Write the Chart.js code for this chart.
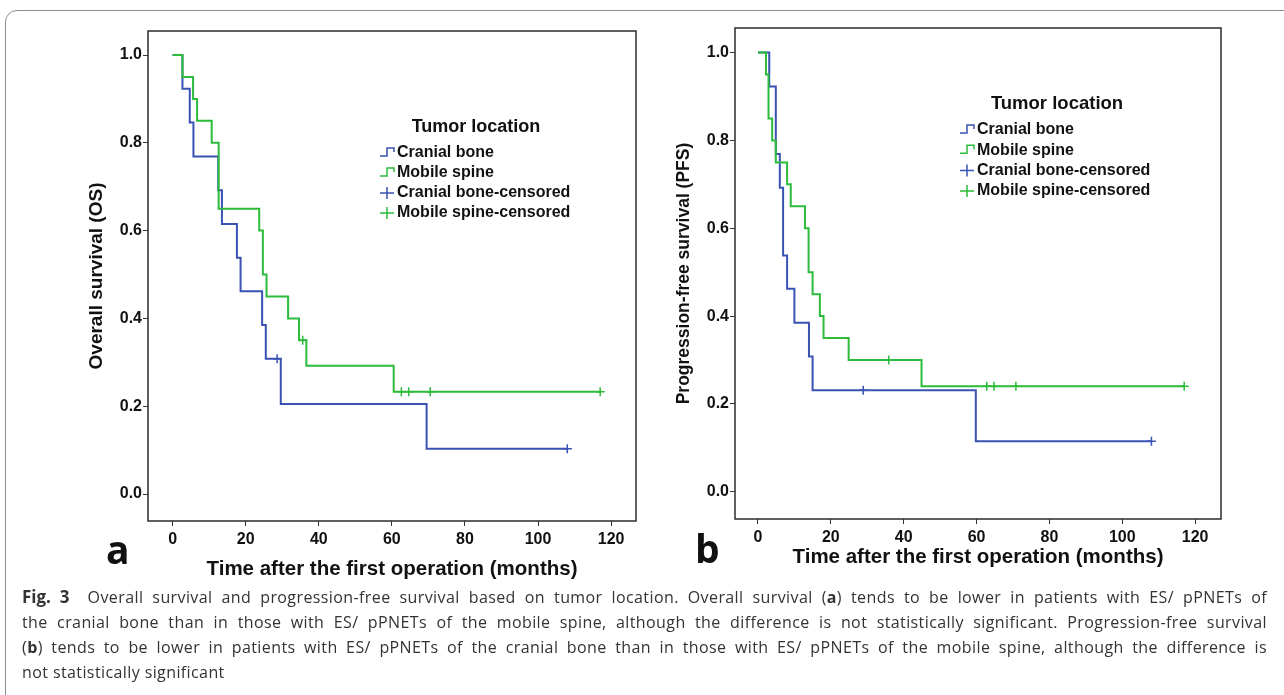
<!DOCTYPE html>
<html>
<head>
<meta charset="utf-8">
<script src="https://cdn.jsdelivr.net/npm/chart.js@4.4.1/dist/chart.umd.min.js"></script>
<style>
  body { margin: 0; background: #fff; width: 1284px; height: 695px; overflow: hidden; position: relative; }
  .box { position: absolute; left: 5px; top: 10px; width: 1300px; height: 700px; border: 1.5px solid #8c8c8c; border-radius: 12px; }
  #osWrap { position: absolute; left: 20px; top: 20px; }
  #pfsWrap { position: absolute; left: 660px; top: 16px; }
  .panel { position: absolute; font-family: "Open Sans", sans-serif; font-weight: 700; font-size: 39px; line-height: 40px; color: #111; }
  .caption { position: absolute; left: 22px; top: 584px; font-family: "Open Sans", sans-serif; font-size: 16px; letter-spacing: 0.4px; line-height: 25px; color: #333; white-space: nowrap; }
  .caption .full { width: 1245px; text-align: justify; text-align-last: justify; }
  .caption .fig { font-size: 17px; letter-spacing: 0; }
</style>
</head>
<body>
<div class="box"></div>
<div id="osWrap"><canvas id="osChart" width="630" height="570"></canvas></div>
<div id="pfsWrap"><canvas id="pfsChart" width="620" height="570"></canvas></div>
<div class="panel" style="left:106px; top:529px;">a</div>
<div class="panel" style="left:695px; top:528px;">b</div>
<div class="caption">
  <div class="full"><b class="fig">Fig. 3</b>&nbsp; Overall survival and progression-free survival based on tumor location. Overall survival (<b>a</b>) tends to be lower in patients with ES/ pPNETs of</div>
  <div class="full">the cranial bone than in those with ES/ pPNETs of the mobile spine, although the difference is not statistically significant. Progression-free survival</div>
  <div class="full">(<b>b</b>) tends to be lower in patients with ES/ pPNETs of the cranial bone than in those with ES/ pPNETs of the mobile spine, although the difference is</div>
  <div>not statistically significant</div>
</div>
<script>
// ticks and groups
const xTicks = [0, 20, 40, 60, 80, 100, 120];
const yTicks = [0, 0.2, 0.4, 0.6, 0.8, 1.0];
const groups = ["Cranial bone", "Mobile spine"];
const groupColors = ["#3a52b4", "#2cbb3a"];

// overall survival (a)
const osCranialTime = [0, 2.7, 4.7, 5.7, 12.5, 13.5, 17.6, 18.6, 24.5, 25.5, 29.6, 69.5, 108];
const osCranialSurv = [1, 0.923, 0.846, 0.769, 0.692, 0.615, 0.538, 0.462, 0.385, 0.308, 0.205, 0.103, 0.103];
const osCranialCensTime = [28.6, 108];
const osCranialCensSurv = [0.308, 0.103];

const osSpineTime = [0, 2.7, 5.6, 6.7, 10.7, 12.6, 23.7, 24.7, 25.7, 31.6, 34.6, 36.6, 60.5, 117];
const osSpineSurv = [1, 0.95, 0.90, 0.85, 0.80, 0.65, 0.60, 0.50, 0.45, 0.40, 0.35, 0.292, 0.233, 0.233];
const osSpineCensTime = [35.6, 62.6, 64.6, 70.5, 117];
const osSpineCensSurv = [0.35, 0.233, 0.233, 0.233, 0.233];

// progression-free survival (b)
const pfsCranialTime = [0, 3.1, 4.9, 6.0, 6.9, 8.0, 10.0, 14.0, 15.0, 59.8, 108];
const pfsCranialSurv = [1, 0.923, 0.769, 0.692, 0.538, 0.462, 0.385, 0.308, 0.231, 0.115, 0.115];
const pfsCranialCensTime = [28.9, 108];
const pfsCranialCensSurv = [0.231, 0.115];

const pfsSpineTime = [0, 2.2, 2.9, 3.9, 4.9, 8.0, 9.0, 12.9, 13.9, 15.0, 17.0, 18.0, 24.9, 44.9, 117];
const pfsSpineSurv = [1, 0.95, 0.85, 0.80, 0.75, 0.70, 0.65, 0.60, 0.50, 0.45, 0.40, 0.35, 0.30, 0.24, 0.24];
const pfsSpineCensTime = [35.9, 62.8, 64.8, 70.8, 117];
const pfsSpineCensSurv = [0.30, 0.24, 0.24, 0.24, 0.24];

const FONT = '"Liberation Sans", Arial, sans-serif';
const pts = (ts, ss) => ts.map((t, i) => ({ x: t, y: ss[i] }));

// box around the plot area
const frame = {
  id: "frame",
  afterDraw(chart) {
    const { ctx, chartArea: a } = chart;
    ctx.save();
    ctx.strokeStyle = "#2b2b2b";
    ctx.lineWidth = 1.5;
    ctx.strokeRect(a.left, a.top, a.right - a.left, a.bottom - a.top);
    ctx.restore();
  }
};

// SPSS-like legend inside the plot
const kmLegend = {
  id: "kmLegend",
  afterDraw(chart, args, o) {
    const { ctx, chartArea: a } = chart;
    ctx.save();
    ctx.fillStyle = "#111";
    ctx.textBaseline = "middle";
    ctx.textAlign = "center";
    ctx.font = "bold " + o.titleSize + "px " + FONT;
    ctx.fillText("Tumor location", a.left + o.titleX, a.top + o.titleY);
    ctx.textAlign = "left";
    ctx.font = "bold " + o.size + "px " + FONT;
    const items = [];
    groups.forEach((g, i) => items.push({ label: g, color: groupColors[i], cens: false }));
    groups.forEach((g, i) => items.push({ label: g + "-censored", color: groupColors[i], cens: true }));
    items.forEach((it, i) => {
      const x = a.left + o.symX, y = a.top + o.firstY + i * o.gap;
      ctx.strokeStyle = it.color;
      ctx.lineWidth = 1.5;
      ctx.beginPath();
      if (it.cens) {
        ctx.moveTo(x, y); ctx.lineTo(x + 14, y);
        ctx.moveTo(x + 7, y - 6); ctx.lineTo(x + 7, y + 6);
      } else {
        ctx.moveTo(x, y + 3); ctx.lineTo(x + 7, y + 3); ctx.lineTo(x + 7, y - 5);
        ctx.lineTo(x + 14, y - 5); ctx.lineTo(x + 14, y - 1);
      }
      ctx.stroke();
      ctx.fillText(it.label, a.left + o.textX, y);
    });
    ctx.restore();
  }
};

function kmChart(id, series, look) {
  const datasets = [];
  series.forEach((s, i) => {
    datasets.push({
      data: pts(s.time, s.surv), borderColor: groupColors[i], borderWidth: 2,
      pointRadius: 0, stepped: "before", fill: false, order: s.order
    });
    datasets.push({
      data: pts(s.censTime, s.censSurv), showLine: false, pointStyle: "cross",
      pointRadius: 4.5, pointBorderColor: groupColors[i], pointBorderWidth: 1.5,
      borderColor: groupColors[i], order: s.order
    });
  });

  return new Chart(document.getElementById(id), {
    type: "line",
    data: { datasets },
    options: {
      responsive: false,
      animation: false,
      layout: { padding: look.pad },
      plugins: { legend: { display: false }, tooltip: { enabled: false }, kmLegend: look.legend },
      scales: {
        x: {
          type: "linear", min: look.xMin, max: look.xMax,
          afterBuildTicks: sc => { sc.ticks = xTicks.map(v => ({ value: v })); },
          afterFit: sc => { sc.height = look.xH; },
          grid: { drawOnChartArea: false, drawTicks: true, tickLength: 5, color: "#333", lineWidth: 1 },
          border: { display: false },
          ticks: { autoSkip: false, maxRotation: 0, padding: 4, color: "#111",
                   font: { family: FONT, size: 16, weight: "bold" }, callback: v => String(v) },
          title: { display: true, text: "Time after the first operation (months)", color: "#111",
                   font: { family: FONT, size: 20.5, weight: "bold" }, padding: { top: 0, bottom: look.xTitlePad } }
        },
        y: {
          min: look.yMin, max: look.yMax,
          afterBuildTicks: sc => { sc.ticks = yTicks.map(v => ({ value: v })); },
          afterFit: sc => { sc.width = look.yW; },
          grid: { drawOnChartArea: false, drawTicks: true, tickLength: 5, color: "#333", lineWidth: 1 },
          border: { display: false },
          ticks: { autoSkip: false, padding: 1, color: "#111",
                   font: { family: FONT, size: 16, weight: "bold" }, callback: v => v.toFixed(1) },
          title: { display: true, text: look.yTitle, color: "#111",
                   font: { family: FONT, size: look.yTitleSize, weight: "bold" }, padding: { top: look.yTitlePad, bottom: 0 } }
        }
      }
    },
    plugins: [frame, kmLegend]
  });
}

kmChart("osChart", [
  { time: osCranialTime, surv: osCranialSurv, censTime: osCranialCensTime, censSurv: osCranialCensSurv, order: 1 },
  { time: osSpineTime, surv: osSpineSurv, censTime: osSpineCensTime, censSurv: osSpineCensSurv, order: 0 }
], {
  pad: { left: 0, top: 11, right: 14, bottom: 0 },
  xMin: -6.73, xMax: 126.8, yMin: -0.0615, yMax: 1.0547,
  xH: 69, yW: 128, xTitlePad: 8, yTitlePad: 65,
  yTitle: "Overall survival (OS)", yTitleSize: 19,
  legend: { titleX: 328, titleY: 96, titleSize: 18, size: 16, symX: 232, textX: 249, firstY: 122, gap: 20 }
});

kmChart("pfsChart", [
  { time: pfsCranialTime, surv: pfsCranialSurv, censTime: pfsCranialCensTime, censSurv: pfsCranialCensSurv, order: 1 },
  { time: pfsSpineTime, surv: pfsSpineSurv, censTime: pfsSpineCensTime, censSurv: pfsSpineCensSurv, order: 0 }
], {
  pad: { left: 0, top: 12, right: 59, bottom: 0 },
  xMin: -6.3, xMax: 127.1, yMin: -0.062, yMax: 1.056,
  xH: 67, yW: 75, xTitlePad: 16, yTitlePad: 13.5,
  yTitle: "Progression-free survival (PFS)", yTitleSize: 17.5,
  legend: { titleX: 322, titleY: 76, titleSize: 18.5, size: 16, symX: 225, textX: 242, firstY: 102, gap: 20.3 }
});
</script>
</body>
</html>
